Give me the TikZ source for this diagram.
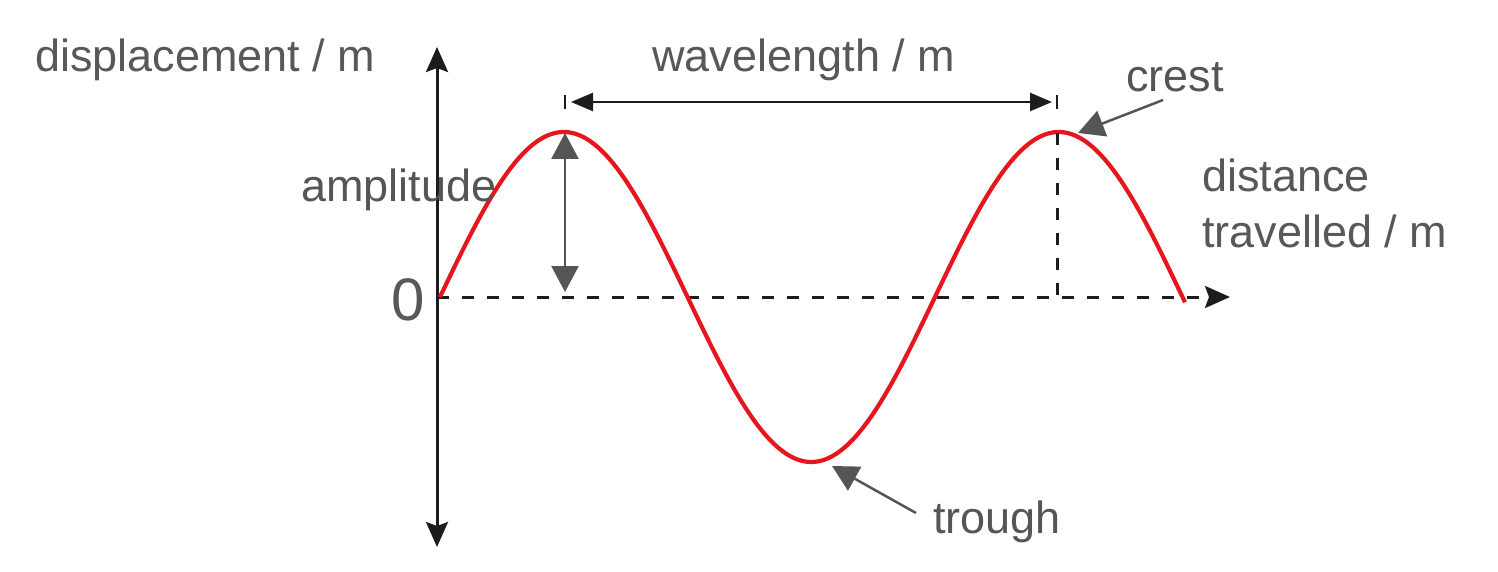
\documentclass[tikz,border=0pt]{standalone}
\usepackage{fontspec}
\setmainfont{Liberation Sans}
\usetikzlibrary{arrows.meta}
\definecolor{wavered}{RGB}{230,22,30}
\definecolor{labelgray}{RGB}{85,85,85}
\definecolor{lightgray}{RGB}{88,88,88}
\definecolor{axisblack}{RGB}{28,28,28}

\begin{document}
\begin{tikzpicture}[x=0.5pt, y=-0.5pt,
    axis/.style={line width=1.5pt, axisblack},
    guide/.style={line width=1.5pt, axisblack, dash pattern=on 6pt off 6.5pt},
    pointer/.style={line width=1.25pt, labelgray, -{Triangle[length=13pt, width=13.5pt]}},
    darklabel/.style={anchor=base west, inner sep=0pt, text=labelgray, font=\fontsize{22.5}{28}\selectfont},
    lightlabel/.style={anchor=base west, inner sep=0pt, text=lightgray, font=\fontsize{22.5}{28}\selectfont}]

    \useasboundingbox (0,0) rectangle (1498,572);

    % Define the coordinate system
    \coordinate (O) at (437,297);
    \coordinate (ytop) at (437,47);
    \coordinate (ybot) at (437,547);
    \coordinate (xend) at (1230,297);
    \draw[axis, {Stealth[length=12.5pt, width=11pt, inset=2pt]}-{Stealth[length=12.5pt, width=11pt, inset=2pt]}] (ybot) -- (ytop);
    \draw[guide, -{Stealth[length=12.5pt, width=11pt, inset=2pt]}] (O) -- (xend);

    % Axis labels
    \node[lightlabel] (ylabel) at (35,72) {displacement / m};
    \node[lightlabel] (xlabel) at (1202,192) {distance};
    \node[lightlabel] (xlabelb) at (1202,248) {travelled / m};
    \node[anchor=base west, inner sep=0pt, text=lightgray, font=\fontsize{30}{36}\selectfont] (zero) at (391,320) {0};

    % Plot the wave
    \draw[wavered, line width=2.1pt, line join=round]
        plot[domain=440:1185, samples=160, smooth] (\x, {297-165*sin(0.727273*(\x-440))});

    % Wavelength
    \coordinate (crestA) at (565,133);
    \coordinate (crestB) at (1057,133);
    \coordinate (footB) at (1057,297);
    \coordinate (wlA) at (565,102);
    \coordinate (wlB) at (1057,102);
    \draw[guide] (crestB) -- (footB);
    \draw[axis, line width=1.1pt] ([yshift=3.5pt]wlA) -- ([yshift=-3.5pt]wlA);
    \draw[axis, line width=1.1pt] ([yshift=3.5pt]wlB) -- ([yshift=-3.5pt]wlB);
    \draw[axis, line width=1.25pt, shorten <=3pt, shorten >=2.5pt,
        {Triangle[length=11pt, width=9pt]}-{Triangle[length=11pt, width=9pt]}] (wlA) -- (wlB);
    \node[lightlabel] (wllabel) at (652,72) {wavelength / m};

    % Amplitude
    \coordinate (ampfoot) at (565,292);
    \draw[pointer, {Triangle[length=13pt, width=13.5pt]}-{Triangle[length=13pt, width=13.5pt]}] (crestA) -- (ampfoot);
    \node[darklabel] (amplabel) at (301,202) {amplitude};

    % Crest and trough
    \node[darklabel] (crestlabel) at (1126,92) {crest};
    \coordinate (crestfrom) at (1163,100);
    \coordinate (crestto) at (1078,133);
    \draw[pointer] (crestfrom) -- (crestto);

    \node[darklabel] (troughlabel) at (933,533) {trough};
    \coordinate (troughfrom) at (916,513);
    \coordinate (troughto) at (832,466);
    \draw[pointer] (troughfrom) -- (troughto);

\end{tikzpicture}
\end{document}
